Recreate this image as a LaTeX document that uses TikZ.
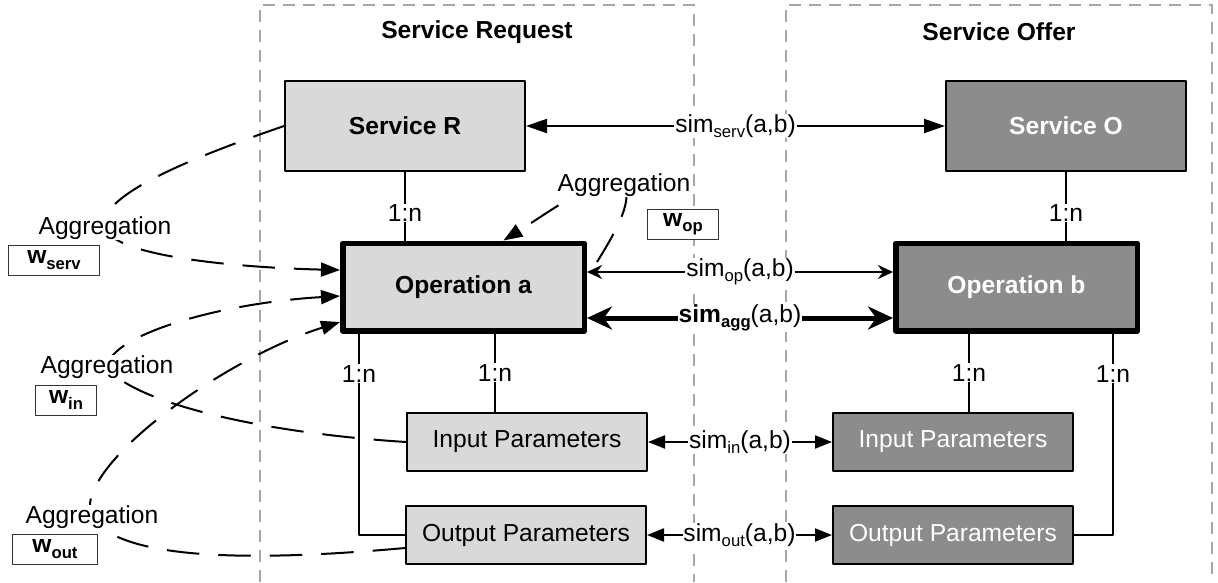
\documentclass[tikz,border=0pt]{standalone}
\usepackage{fontspec}
\setmainfont{Liberation Sans}
\usetikzlibrary{arrows.meta}
\pgfdeclarelayer{background}
\pgfsetlayers{background,main}
\definecolor{lightbox}{HTML}{D9D9D9}
\definecolor{darkbox}{HTML}{8C8C8C}
\definecolor{framegray}{HTML}{A6A6A6}
\newcommand\picfont{\fontsize{14}{16}\selectfont}
\newcommand\subx[1]{\raisebox{-.4ex}{\fontsize{9.5}{10}\selectfont #1}}

\begin{document}
\begin{tikzpicture}[x=0.2mm, y=-0.2mm, font=\picfont, line join=round,
	box/.style={draw, line width=.4mm, minimum width=48mm, minimum height=18mm, inner sep=0pt},
	opbox/.style={draw, line width=1.1mm, minimum width=48.3mm, minimum height=17.5mm, inner sep=0pt, font=\picfont\bfseries},
	parbox/.style={draw, line width=.4mm, minimum width=48mm, minimum height=11.6mm, inner sep=0pt},
	lbl/.style={fill=white, inner sep=.5pt},
	wbox/.style={draw=black!80, line width=.2mm, fill=white, minimum height=6mm, inner sep=1pt},
	frame/.style={draw=framegray, line width=.4mm, dash pattern=on 2.4mm off 1.6mm},
	aggline/.style={line width=.4mm, dash pattern=on 6.5mm off 3.8mm, -{Triangle[length=3.8mm,width=2.8mm]}},
	tri/.style={line width=.4mm, {Triangle[length=4.2mm,width=2.8mm]}-{Triangle[length=4.2mm,width=2.8mm]}},
	smalltri/.style={line width=.4mm, {Triangle[length=3.4mm,width=2.6mm]}-{Triangle[length=3.4mm,width=2.6mm]}}]
	\useasboundingbox (0,0) rectangle (1218,582);
	% titles
	\node[font=\picfont\bfseries] (reqT) at (477,32) {Service Request};
	\node[font=\picfont\bfseries] (offT) at (999,32) {Service Offer};
	% boxes
	\node[box, fill=lightbox, font=\picfont\bfseries] (serR) at (405,126) {Service R};
	\node[box, fill=darkbox, text=white, font=\picfont\bfseries] (serO) at (1066,126) {Service O};
	\node[opbox, fill=lightbox] (opA) at (463.5,287) {Operation a};
	\node[opbox, fill=darkbox, text=white] (opB) at (1016.5,287) {Operation b};
	\node[parbox, fill=lightbox] (inA) at (527,442) {Input Parameters};
	\node[parbox, fill=darkbox, text=white] (inB) at (953,442) {Input Parameters};
	\node[parbox, fill=lightbox] (outA) at (526,535) {Output Parameters};
	\node[parbox, fill=darkbox, text=white] (outB) at (953,535) {Output Parameters};
	% aggregation labels and weights
	\node[lbl] (aggS) at (105,228) {Aggregation};
	\node[lbl] (aggI) at (107,367) {Aggregation};
	\node[lbl] (aggU) at (92,517) {Aggregation};
	\node[lbl] (aggO) at (624,185) {Aggregation};
	\node[wbox, minimum width=18.2mm] (wS) at (54,260) {\textbf{w\subx{serv}}};
	\node[wbox, minimum width=12.2mm] (wI) at (66,400) {\textbf{w\subx{in}}};
	\node[wbox, minimum width=16.8mm] (wU) at (55,549) {\textbf{w\subx{out}}};
	\node[wbox, minimum width=14.2mm] (wO) at (683,224) {\textbf{w\subx{op}}};
	% 1:n relations
	\coordinate (xa) at (495,0); \coordinate (xo) at (359,0);
	\coordinate (xb) at (969,0); \coordinate (xp) at (1113,0);
	\draw[line width=.4mm] (serR) -- (serR.south |- opA.north) node[lbl, pos=.6] {1:n};
	\draw[line width=.4mm] (serO) -- (serO.south |- opB.north) node[lbl, pos=.6] {1:n};
	\draw[line width=.4mm] (opA.south -| xa) -- (inA.north -| xa) node[lbl, midway] {1:n};
	\draw[line width=.4mm] (opA.south -| xo) |- (outA.west) node[lbl, pos=.1] {1:n};
	\draw[line width=.4mm] (opB.south -| xb) -- (inB.north -| xb) node[lbl, midway] {1:n};
	\draw[line width=.4mm] (opB.south -| xp) |- (outB.east) node[lbl, pos=.1] {1:n};
	% similarities
	\draw[tri] (serR) -- (serO) node[lbl, midway] {sim\subx{serv}(a,b)};
	\draw[line width=.4mm, {Stealth[length=3mm,width=2.8mm]}-{Stealth[length=3mm,width=2.8mm]}]
		([yshift=3mm]opA.east) -- ([yshift=3mm]opB.west) node[lbl, midway] {sim\subx{op}(a,b)};
	\draw[line width=1mm, {Stealth[length=5mm,width=4.6mm]}-{Stealth[length=5mm,width=4.6mm]}]
		([yshift=-6.2mm]opA.east) -- ([yshift=-6.2mm]opB.west) node[lbl, midway] {\textbf{sim\subx{agg}}(a,b)};
	\draw[smalltri] (inA) -- (inB) node[lbl, midway] {sim\subx{in}(a,b)};
	\draw[smalltri] (outA) -- (outB) node[lbl, midway] {sim\subx{out}(a,b)};
	\begin{pgfonlayer}{background}
		\draw[frame] (260,582) -- (260,5) -- (694,5) -- (694,582);
		\draw[frame] (786,582) -- (786,5) -- (1212,5) -- (1212,582);
		\coordinate (opstart) at (597,262);
		\draw[aggline] (serR.west) .. controls (200,155) and (95,195) .. (aggS.center)
			.. controls (115,258) and (250,268) .. ([yshift=3.4mm]opA.west);
		\draw[aggline] (inA.west) .. controls (250,432) and (130,400) .. (aggI.center)
			.. controls (110,335) and (220,303) .. ([yshift=-1.8mm]opA.west);
		\draw[aggline] ([yshift=-2.6mm]outA.west) .. controls (250,562) and (120,560) .. (aggU.center)
			.. controls (70,470) and (220,360) .. ([yshift=-7mm]opA.west);
		\draw[aggline] (opstart) .. controls (620,225) and (632,200) .. (aggO.center)
			.. controls (590,180) and (560,205) .. ([xshift=8mm]opA.north);
	\end{pgfonlayer}
\end{tikzpicture}
\end{document}
